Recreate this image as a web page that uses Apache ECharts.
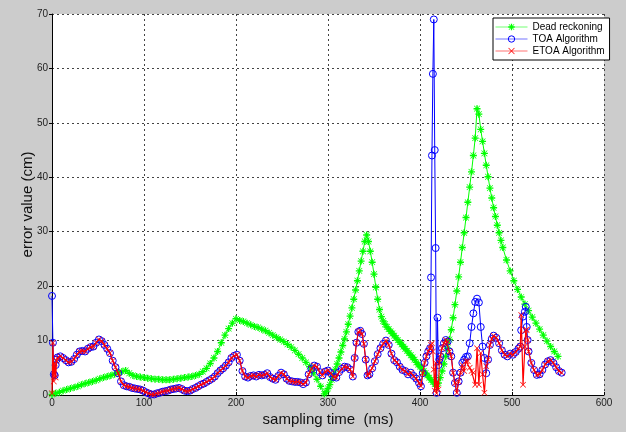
<!DOCTYPE html>
<html>
<head>
<meta charset="utf-8">
<script src="https://cdn.jsdelivr.net/npm/echarts@6/dist/echarts.min.js"></script>
<style>html,body{margin:0;padding:0;background:#cccccc;}#c{width:626px;height:432px;}</style>
</head>
<body>
<div id="c"></div>
<script>
// ---- Data ----
const seriesNames = ['Dead reckoning', 'TOA Algorithm', 'ETOA Algorithm'];
const xTickValues = [0, 100, 200, 300, 400, 500, 600];
const yTickValues = [0, 10, 20, 30, 40, 50, 60, 70];

// Dead reckoning: sampling times and errors
const deadX = [0,4,8,12,16,20,24,28,32,36,40,44,48,52,56,60,64,68,72,76,80,
  84,88,92,96,100,104,108,112,116,120,124,128,132,136,140,144,148,152,156,160,164,168,172,176,180,184,188,192,196,200,
  204,208,212,216,220,224,228,232,236,240,244,248,252,256,260,264,268,272,276,280,284,288,292,296,
  298,300,302,304,306,308,310,312,314,316,318,320,322,324,326,328,330,332,334,336,338,340,342,
  344,346,348,350,352,354,356,358,360,362,364,366,368,370,372,374,376,378,380,382,384,386,388,390,392,394,396,398,400,402,404,406,408,410,412,414,416,418,
  420,422,424,426,428,430,432,434,436,438,440,442,444,446,448,450,452,454,456,458,460,462,464,
  466,468,470,472,474,476,478,480,482,484,486,488,490,
  494,498,502,506,510,514,518,522,526,530,534,538,542,546,550];
const deadY = [0.1,0.3,0.5,0.8,1.0,1.2,1.4,1.6,1.9,2.1,2.3,2.5,2.7,3.0,3.2,3.4,3.6,3.8,4.1,4.3,4.5,
  4.0,3.6,3.4,3.3,3.2,3.1,3.0,2.9,2.9,2.8,2.8,2.8,2.9,3.0,3.1,3.2,3.3,3.4,3.6,3.8,4.3,4.9,5.8,6.8,8.0,9.6,11.0,12.2,13.2,14.0,
  13.7,13.5,13.2,12.9,12.6,12.4,12.1,11.8,11.4,11.0,10.6,10.2,9.8,9.3,8.8,8.2,7.5,6.8,6.0,5.2,4.1,2.9,1.6,0.2,
  0.6,1.2,1.9,2.8,3.7,4.7,5.7,6.8,7.9,9.1,10.3,11.6,13.0,14.5,16.0,17.6,19.3,21.0,22.8,24.6,26.4,28.2,29.4,
  28.2,26.4,24.4,22.2,19.8,17.6,15.7,14.4,13.6,13.0,12.5,12.1,11.7,11.3,10.9,10.5,10.1,9.7,9.3,8.9,8.5,8.1,7.7,7.3,6.9,6.5,6.0,5.6,5.2,4.8,4.4,4.0,3.6,3.2,2.8,2.4,2.0,1.6,
  2.2,3.2,4.4,5.7,7.1,8.6,10.2,12.0,14.2,16.6,19.1,21.7,24.4,27.1,29.8,32.6,35.4,38.2,41.0,44.0,47.2,52.6,51.6,
  48.8,46.6,44.4,42.2,40.1,38.0,36.2,34.4,32.8,31.2,29.8,28.4,27.1,
  24.8,22.8,21.0,19.4,18.0,16.7,15.5,14.3,13.2,12.1,11.0,9.9,8.9,8.0,7.1];

// TOA / ETOA: shared sampling times
const sampleX = [0,1,2,3,4,5,6,
  9,12,15,18,21,24,27,30,33,36,39,42,45,48,51,54,57,60,63,66,69,72,75,78,81,84,87,90,93,96,99,
  102,105,108,111,114,117,120,123,126,129,132,135,138,141,144,147,150,153,156,159,162,165,168,171,174,177,180,183,186,189,192,195,198,
  201,204,207,210,213,216,219,222,225,228,231,234,237,240,243,246,249,252,255,258,261,264,267,270,273,276,279,282,285,288,291,294,297,
  300,303,306,309,312,315,318,321,324,327,
  329,331,333,335,337,339,341,343,
  345,348,351,354,357,360,363,366,369,372,375,378,381,384,387,390,393,396,399,
  401,403,405,407,409,411,
  412,413,414,415,416,417,418,419,420,421,
  422,424,426,428,430,432,434,436,438,440,442,444,446,448,450,452,454,456,458,460,462,464,466,468,470,472,474,476,478,480,
  483,486,489,492,495,498,501,504,507,509,
  510,512,514,515,516,517,518,
  521,524,527,530,533,536,539,542,545,548,551,554];
const toaY = [18.2,9.6,3.8,3.6,5.5,6.5,6.9,
  7.1,6.8,6.4,6.0,6.1,6.6,7.4,8.0,8.1,8.0,8.5,8.8,8.9,9.6,10.2,9.9,9.2,8.5,7.7,6.3,5.1,4.0,2.5,1.8,1.6,1.5,1.3,1.2,1.1,1.0,0.8,
  0.5,0.3,0.1,0.1,0.3,0.4,0.6,0.7,0.8,1.0,1.1,1.2,1.3,1.1,0.8,0.7,0.8,1.1,1.3,1.6,1.9,2.1,2.4,2.7,3.0,3.4,4.0,4.5,4.9,5.4,6.0,6.8,7.2,
  7.4,6.3,4.4,3.4,3.2,3.5,3.6,3.4,3.7,3.6,3.7,4.0,3.3,3.0,2.8,3.5,4.1,3.8,3.0,2.6,2.5,2.4,2.4,2.3,2.0,2.3,3.8,4.8,5.4,5.2,4.2,3.6,4.3,
  4.5,4.0,3.3,3.2,4.2,4.8,5.2,5.1,4.7,3.4,
  6.8,9.6,11.6,11.8,11.2,9.4,6.5,3.6,
  3.8,4.9,6.2,7.5,8.6,9.4,10.0,9.2,7.6,6.4,6.0,5.2,4.6,4.4,3.8,4.1,3.5,3.0,2.2,
  1.6,4.0,5.9,7.1,8.0,8.6,
  21.6,44.0,59.0,69.0,45.0,27.0,0.4,14.2,5.5,6.5,
  7.1,8.6,9.5,10.1,9.8,8.0,7.1,4.1,2.2,0.4,2.5,4.1,5.9,6.5,7.0,7.1,9.5,12.5,15.0,17.1,17.7,17.0,12.5,8.9,6.8,4.0,6.5,9.2,10.3,10.9,
  10.5,9.5,8.2,7.4,7.1,7.6,7.4,7.9,8.5,8.9,
  11.9,14.4,15.3,16.2,12.5,10.1,8.0,
  5.9,4.6,3.7,3.8,4.6,5.6,6.2,6.4,5.9,5.1,4.4,4.1];
const etoaY = [0.3,9.6,2.5,5.8,3.2,6.3,6.8,
  7.1,6.8,6.4,6.0,6.1,6.6,7.4,8.0,8.1,8.0,8.5,8.8,8.9,9.6,10.2,9.9,9.2,8.5,7.7,6.3,5.1,4.0,2.5,1.8,1.6,1.5,1.3,1.2,1.1,1.0,0.8,
  0.5,0.3,0.1,0.1,0.3,0.4,0.6,0.7,0.8,1.0,1.1,1.2,1.3,1.1,0.8,0.7,0.8,1.1,1.3,1.6,1.9,2.1,2.4,2.7,3.0,3.4,4.0,4.5,4.9,5.4,6.0,6.8,7.2,
  7.4,6.3,4.4,3.4,3.2,3.5,3.6,3.4,3.7,3.6,3.7,4.0,3.3,3.0,2.8,3.5,4.1,3.8,3.0,2.6,2.5,2.4,2.4,2.3,2.0,2.3,3.8,4.8,5.4,5.2,4.2,3.6,4.3,
  4.5,4.0,3.3,3.2,4.2,4.8,5.2,5.1,4.7,3.4,
  6.8,9.6,11.6,11.8,11.2,9.4,6.5,3.6,
  3.8,4.9,6.2,7.5,8.6,9.4,10.0,9.2,7.6,6.4,6.0,5.2,4.6,4.4,3.8,4.1,3.5,3.0,2.2,
  1.6,4.0,5.9,7.1,8.0,8.6,
  9.2,9.5,8.0,4.7,0.8,5.9,0.3,2.5,1.0,6.0,
  7.1,8.6,9.5,10.1,9.8,8.0,7.1,4.1,2.2,0.4,2.5,4.1,5.5,4.4,6.2,6.2,5.0,4.4,4.1,1.9,8.6,1.9,7.7,3.8,0.4,5.3,6.5,9.2,10.3,10.9,
  10.5,9.5,8.2,7.4,7.1,7.6,7.4,7.9,8.5,8.9,
  14.7,1.9,8.9,11.9,12.0,10.1,8.0,
  5.9,4.6,3.7,3.8,4.6,5.6,6.2,6.4,5.9,5.1,4.4,4.1];

// ---- Chart ----
const pairs = (xs, ys) => xs.map((x, i) => [x, ys[i]]);
const asterisk = 'path://M4,0h2v10h-2z M0,4h10v2h-10z M1.2,0.5 L9.5,8.8 L8.8,9.5 L0.5,1.2z M8.8,0.5 L9.5,1.2 L1.2,9.5 L0.5,8.8z';
const cross = 'path://M0.8,0 L5,4.2 L9.2,0 L10,0.8 L5.8,5 L10,9.2 L9.2,10 L5,5.8 L0.8,10 L0,9.2 L4.2,5 L0,0.8 Z';
const font = 'Liberation Sans, Arial, sans-serif';

const chart = echarts.init(document.getElementById('c'), null, {renderer: 'canvas'});
chart.setOption({
  backgroundColor: '#cccccc',
  animation: false,
  grid: {left: 52, right: 22, top: 14, bottom: 33, show: true, backgroundColor: '#ffffff', borderWidth: 0},
  xAxis: {
    type: 'value', min: xTickValues[0], max: xTickValues[xTickValues.length - 1], interval: 100,
    name: 'sampling time  (ms)', nameLocation: 'middle', nameGap: 17, nameMoveOverlap: false,
    nameTextStyle: {fontSize: 15, color: '#111', fontFamily: font},
    axisLine: {show: true, lineStyle: {color: '#000', width: 1}},
    axisTick: {show: true, inside: true, length: 3, lineStyle: {color: '#000'}},
    axisLabel: {fontSize: 10, color: '#222', fontFamily: font, margin: 3},
    splitLine: {show: true, lineStyle: {color: '#444', type: [2, 3], width: 1}}
  },
  yAxis: {
    type: 'value', min: yTickValues[0], max: yTickValues[yTickValues.length - 1], interval: 10,
    name: 'error value (cm)', nameLocation: 'middle', nameGap: 17, nameRotate: 90, nameMoveOverlap: false,
    nameTextStyle: {fontSize: 15, color: '#111', fontFamily: font},
    axisLine: {show: true, lineStyle: {color: '#000', width: 1}},
    axisTick: {show: true, inside: false, length: 3, lineStyle: {color: '#000'}},
    axisLabel: {fontSize: 10, color: '#222', fontFamily: font, margin: 4},
    splitLine: {show: true, lineStyle: {color: '#444', type: [2, 3], width: 1}}
  },
  legend: {
    orient: 'vertical', left: 493, top: 18, itemWidth: 32, itemHeight: 8, itemGap: 0,
    padding: [3, 5, 3, 2], backgroundColor: '#ffffff', borderColor: '#000', borderWidth: 1, borderRadius: 0,
    textStyle: {fontSize: 10, lineHeight: 12, color: '#000', fontFamily: font},
    lineStyle: {width: 1, opacity: 0.55},
    data: [
      {name: seriesNames[0]},
      {name: seriesNames[1], itemStyle: {borderWidth: 1}},
      {name: seriesNames[2]}
    ]
  },
  series: [
    {
      name: seriesNames[0], type: 'line', data: pairs(deadX, deadY), showAllSymbol: true,
      symbol: asterisk, symbolSize: 7, silent: true, z: 2,
      lineStyle: {color: '#00ff00', width: 1}, itemStyle: {color: '#00ff00'}
    },
    {
      name: seriesNames[1], type: 'line', data: pairs(sampleX, toaY), showAllSymbol: true,
      symbol: 'circle', symbolSize: 7, silent: true, z: 3,
      lineStyle: {color: '#0000ff', width: 1},
      itemStyle: {color: 'rgba(255,255,255,0)', borderColor: '#0000ff', borderWidth: 1}
    },
    {
      name: seriesNames[2], type: 'line', data: pairs(sampleX, etoaY), showAllSymbol: true,
      symbol: cross, symbolSize: 6, silent: true, z: 4,
      lineStyle: {color: '#ff0000', width: 1.2}, itemStyle: {color: '#ff0000'}
    }
  ]
});
</script>
</body>
</html>
